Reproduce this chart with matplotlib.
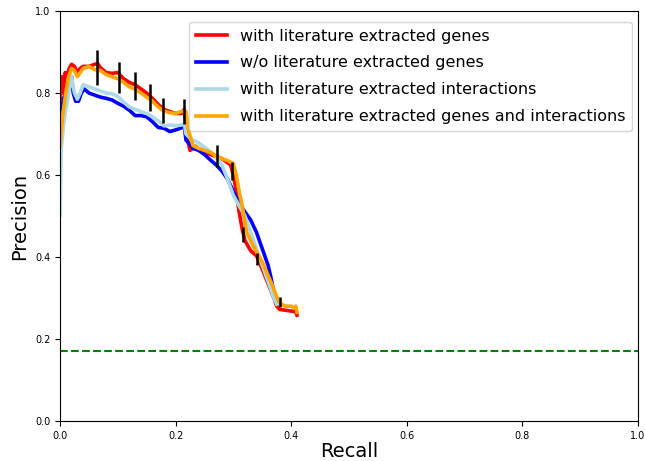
import matplotlib
matplotlib.use("Agg")
import matplotlib.pyplot as plt

# with literature extracted genes (red)
red_r = [0.0, 0.003, 0.006, 0.009, 0.012, 0.016, 0.02, 0.025, 0.03, 0.035, 0.04, 0.05, 0.06, 0.065,
         0.07, 0.08, 0.09, 0.1, 0.11, 0.12, 0.13, 0.14, 0.15, 0.16, 0.17, 0.18, 0.19, 0.2, 0.21,
         0.215, 0.22, 0.225, 0.23, 0.235, 0.24, 0.25, 0.26, 0.27, 0.28, 0.29, 0.295, 0.3, 0.305,
         0.31, 0.315, 0.32, 0.33, 0.34, 0.35, 0.36, 0.37, 0.375, 0.38, 0.39, 0.4, 0.408, 0.41]
red_p = [0.78, 0.84, 0.80, 0.85, 0.84, 0.86, 0.87, 0.865, 0.85, 0.86, 0.865, 0.865, 0.87, 0.872,
         0.862, 0.85, 0.848, 0.85, 0.835, 0.826, 0.82, 0.81, 0.80, 0.787, 0.772, 0.76, 0.755, 0.75, 0.75,
         0.76, 0.69, 0.66, 0.665, 0.67, 0.662, 0.656, 0.65, 0.645, 0.64, 0.63, 0.625, 0.6, 0.56,
         0.51, 0.47, 0.44, 0.415, 0.403, 0.37, 0.335, 0.30, 0.28, 0.272, 0.27, 0.268, 0.266, 0.258]

# w/o literature extracted genes (blue)
blue_r = [0.0, 0.003, 0.007, 0.012, 0.016, 0.02, 0.023, 0.027, 0.032, 0.037, 0.042, 0.05, 0.06,
          0.07, 0.08, 0.09, 0.1, 0.11, 0.12, 0.13, 0.14, 0.15, 0.16, 0.17, 0.18, 0.19, 0.2, 0.21,
          0.215, 0.218, 0.225, 0.23, 0.24, 0.25, 0.26, 0.27, 0.28, 0.29, 0.3, 0.31, 0.32, 0.33,
          0.34, 0.35, 0.36, 0.365, 0.37, 0.375]
blue_p = [0.70, 0.76, 0.79, 0.80, 0.82, 0.84, 0.80, 0.78, 0.78, 0.80, 0.81, 0.80, 0.795,
          0.79, 0.787, 0.783, 0.775, 0.768, 0.758, 0.745, 0.745, 0.742, 0.73, 0.716, 0.714, 0.706, 0.71, 0.715,
          0.72, 0.685, 0.675, 0.665, 0.66, 0.65, 0.637, 0.625, 0.61, 0.59, 0.56, 0.53, 0.51, 0.49,
          0.46, 0.42, 0.38, 0.35, 0.315, 0.29]

# with literature extracted interactions (light blue)
lb_r = [0.0, 0.002, 0.006, 0.01, 0.015, 0.02, 0.025, 0.03, 0.035, 0.04, 0.05, 0.06, 0.07, 0.08,
        0.09, 0.1, 0.11, 0.12, 0.13, 0.14, 0.15, 0.16, 0.17, 0.18, 0.19, 0.2, 0.21, 0.215, 0.218,
        0.225, 0.23, 0.24, 0.25, 0.26, 0.27, 0.28, 0.29, 0.3, 0.31, 0.32, 0.33, 0.34, 0.35, 0.36,
        0.37, 0.375]
lb_p = [0.50, 0.66, 0.72, 0.76, 0.80, 0.84, 0.80, 0.785, 0.80, 0.82, 0.815, 0.81, 0.805, 0.80,
        0.798, 0.792, 0.778, 0.766, 0.76, 0.755, 0.75, 0.742, 0.732, 0.72, 0.722, 0.72, 0.722, 0.725, 0.70,
        0.69, 0.685, 0.678, 0.668, 0.657, 0.645, 0.625, 0.59, 0.55, 0.525, 0.50, 0.46, 0.42, 0.38, 0.34,
        0.30, 0.285]

# with literature extracted genes and interactions (orange)
or_r = [0.0, 0.005, 0.01, 0.015, 0.02, 0.025, 0.03, 0.035, 0.04, 0.05, 0.06, 0.07, 0.08, 0.09,
        0.1, 0.11, 0.12, 0.13, 0.14, 0.15, 0.16, 0.17, 0.18, 0.19, 0.2, 0.21, 0.218, 0.222, 0.23,
        0.24, 0.25, 0.26, 0.27, 0.28, 0.29, 0.3, 0.305, 0.31, 0.316, 0.323, 0.33, 0.337, 0.345,
        0.351, 0.36, 0.366, 0.373, 0.38, 0.39, 0.4, 0.405, 0.408, 0.41]
or_p = [0.67, 0.75, 0.80, 0.84, 0.86, 0.855, 0.84, 0.85, 0.86, 0.865, 0.857, 0.855, 0.845, 0.84,
        0.835, 0.826, 0.815, 0.81, 0.80, 0.79, 0.78, 0.766, 0.756, 0.752, 0.75, 0.755, 0.755, 0.71, 0.672,
        0.665, 0.66, 0.655, 0.647, 0.64, 0.635, 0.628, 0.60, 0.56, 0.52, 0.46, 0.44, 0.42, 0.40,
        0.385, 0.355, 0.336, 0.31, 0.287, 0.28, 0.28, 0.275, 0.28, 0.265]

# error bars on red curve
err_r = [0.064, 0.102, 0.130, 0.156, 0.178, 0.215, 0.272, 0.298, 0.316, 0.341, 0.380]
err_p = [0.863, 0.838, 0.817, 0.790, 0.757, 0.755, 0.646, 0.610, 0.455, 0.395, 0.291]
err_e = [0.043, 0.038, 0.035, 0.033, 0.031, 0.030, 0.026, 0.022, 0.018, 0.015, 0.012]

baseline = 0.171

labels = ["with literature extracted genes", "w/o literature extracted genes",
          "with literature extracted interactions", "with literature extracted genes and interactions"]

fig = plt.figure(figsize=(6.45, 4.61), dpi=100)
ax = fig.add_axes([0.093, 0.087, 0.896, 0.889])

lw = 2.6
ax.plot(red_r, red_p, color="red", lw=lw, label=labels[0])
ax.plot(blue_r, blue_p, color="blue", lw=lw, label=labels[1])
ax.plot(lb_r, lb_p, color="lightblue", lw=lw, label=labels[2])
ax.plot(or_r, or_p, color="orange", lw=lw, label=labels[3])
ax.errorbar(err_r, err_p, yerr=err_e, fmt="none", ecolor="black", elinewidth=1.8, zorder=5)
ax.axhline(baseline, color="green", ls="--", lw=1.5)

ax.set_xlim(0, 1)
ax.set_ylim(0, 1)
ax.tick_params(labelsize=7)
ax.set_xlabel("Recall", fontsize=14, labelpad=1)
ax.set_ylabel("Precision", fontsize=14)
ax.legend(loc="upper right", bbox_to_anchor=(0.99, 0.973), borderaxespad=0,
          fontsize=11.5, labelspacing=0.75)

fig.savefig("out.png", dpi=100)
